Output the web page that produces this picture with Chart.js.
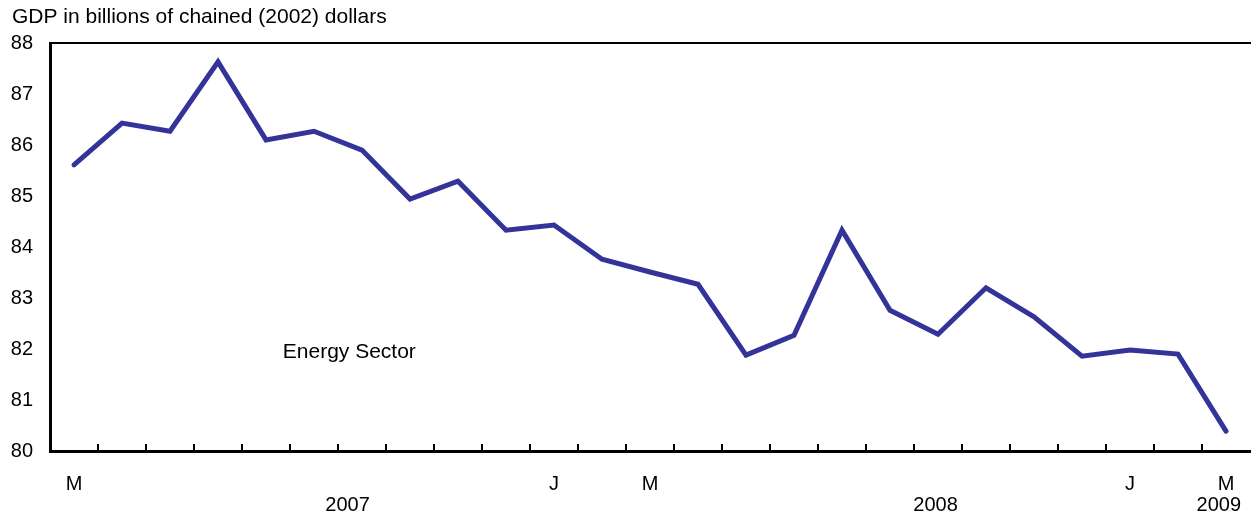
<!DOCTYPE html>
<html lang="en">
<head>
  <meta charset="UTF-8">
  <title>Energy Sector GDP</title>
  <script src="https://cdn.jsdelivr.net/npm/chart.js"></script>
  <style>
    html, body { margin: 0; padding: 0; background: #fff; }
    #wrap { width: 1251px; height: 520px; position: relative; }
  </style>
</head>
<body>
  <div id="wrap"><canvas id="chart"></canvas></div>

  <script>
    // months Mar 2007 .. Mar 2009, only some get a letter
    var months = ['M','','','','','','','','','','J','','M','','','','','','','','','','J','','M'];
    var gdp = [85.61, 86.43, 86.27, 87.63, 86.10, 86.27, 85.90, 84.94, 85.29, 84.33,
               84.43, 83.76, 83.51, 83.27, 81.88, 82.27, 84.33, 82.76, 82.29, 83.20,
               82.63, 81.86, 81.98, 81.90, 80.39];
    var years = ['2007', '2008', '2009'];
    var yearPos = [5.7, 17.95, 23.85];
    var yTicks = [80, 81, 82, 83, 84, 85, 86, 87, 88];

    var font = '"Liberation Sans", Arial, sans-serif';

    var extras = {
      id: 'extras',
      afterDraw: function(c) {
        var ctx = c.ctx;
        var x = c.scales.x, y = c.scales.y;
        var area = c.chartArea;
        ctx.save();
        // top frame line
        ctx.strokeStyle = '#000';
        ctx.lineWidth = 2;
        ctx.beginPath();
        ctx.moveTo(area.left, area.top);
        ctx.lineTo(c.width, area.top);
        ctx.stroke();
        // small ticks between months, pointing up
        for (var i = 1; i < months.length; i++) {
          var px = Math.round((x.getPixelForValue(i - 1) + x.getPixelForValue(i)) / 2);
          ctx.beginPath();
          ctx.moveTo(px, area.bottom);
          ctx.lineTo(px, area.bottom - 7);
          ctx.stroke();
        }
        ctx.fillStyle = '#000';
        ctx.font = '20px ' + font;
        ctx.textAlign = 'center';
        ctx.textBaseline = 'middle';
        for (var j = 0; j < years.length; j++) {
          ctx.fillText(years[j], x.getPixelForValue(yearPos[j]), 505);
        }
        // title
        ctx.textAlign = 'left';
        ctx.font = '21px ' + font;
        ctx.fillText('GDP in billions of chained (2002) dollars', 12, 17);
        // series label
        ctx.fillText('Energy Sector', x.getPixelForValue(4.35), y.getPixelForValue(81.94));
        ctx.restore();
      }
    };

    new Chart(document.getElementById('chart'), {
      type: 'line',
      data: {
        labels: months,
        datasets: [{
          label: 'Energy Sector',
          data: gdp,
          borderColor: '#333399',
          borderWidth: 5,
          pointRadius: 0,
          tension: 0,
          borderCapStyle: 'round',
          borderJoinStyle: 'miter'
        }]
      },
      plugins: [extras],
      options: {
        responsive: true,
        maintainAspectRatio: false,
        animation: false,
        layout: { padding: { top: 43, right: 1, left: 0, bottom: 0 } },
        plugins: {
          legend: { display: false },
          tooltip: { enabled: false }
        },
        scales: {
          x: {
            offset: true,
            grid: {
              display: true,
              drawOnChartArea: false,
              drawTicks: true,
              tickLength: 19,
              tickColor: 'rgba(0,0,0,0)'
            },
            border: { color: '#000', width: 3 },
            ticks: {
              autoSkip: false,
              maxRotation: 0,
              padding: 2,
              color: '#000',
              font: { family: font, size: 20 }
            },
            afterFit: function(s) { s.height = 69; }
          },
          y: {
            min: 80,
            max: 88,
            afterBuildTicks: function(s) {
              s.ticks = yTicks.map(function(v) { return { value: v }; });
            },
            grid: { drawOnChartArea: false, drawTicks: false },
            border: { color: '#000', width: 3 },
            ticks: {
              padding: 17,
              color: '#000',
              font: { family: font, size: 20 }
            },
            afterFit: function(s) { s.width = 50; }
          }
        }
      }
    });
  </script>
</body>
</html>
